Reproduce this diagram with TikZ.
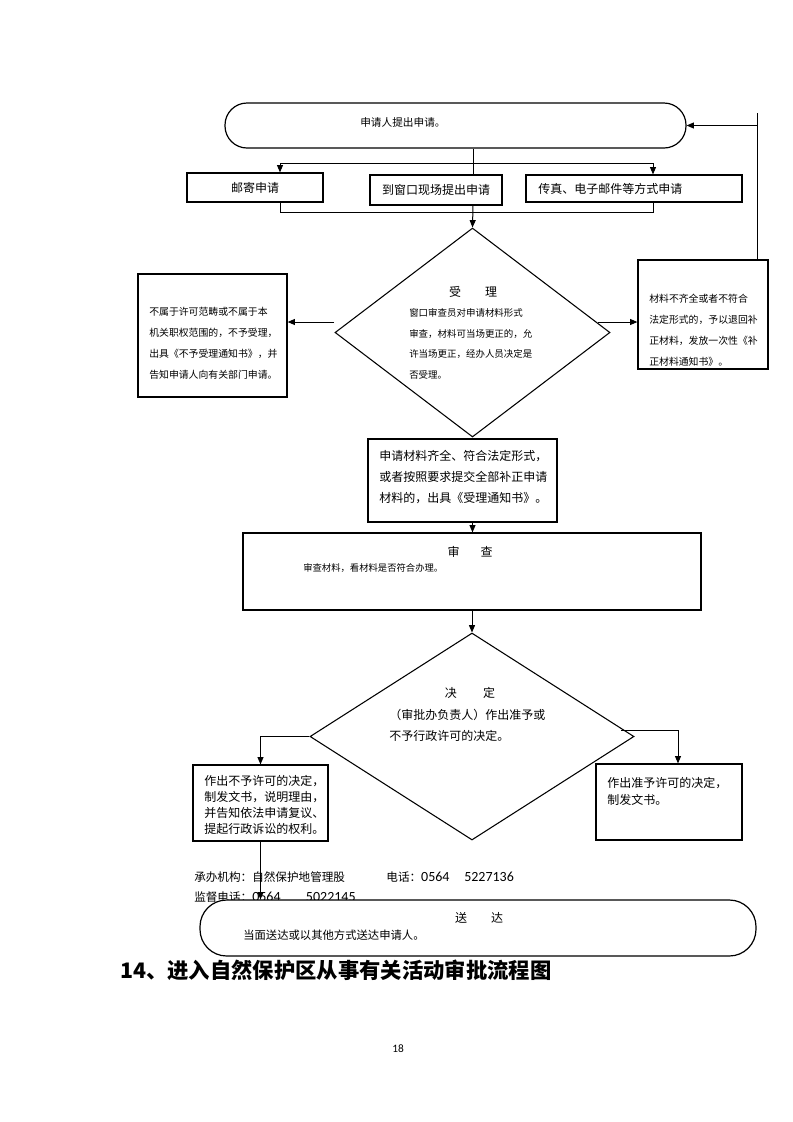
\documentclass[tikz,border=0pt]{standalone}
\usepackage{fontspec}
\setmainfont{Noto Sans CJK SC}
\newfontfamily\numfont{Carlito}
\usetikzlibrary{shapes.geometric,arrows.meta}

\begin{document}
\begin{tikzpicture}[x=0.75pt,y=-0.75pt,
    dims/.style 2 args={minimum width=#1*0.75pt,minimum height=#2*0.75pt},
    box/.style={draw,line width=0.9pt,inner sep=0pt},
    term/.style={box,rounded corners=16.5pt},
    choice/.style={draw,diamond,line width=0.8pt,inner sep=0pt},
    txt/.style={inner sep=0pt,align=left,anchor=west},
    link/.style={line width=0.75pt},
    arr/.style={link,-{Triangle[length=5.5pt,width=4.5pt]}}]
    \useasboundingbox [fill=white] (0,0) rectangle (793,1122);

    % application
    \node [term,dims={461}{45}] (apply) at (455.5,125.5) {};
    \node [txt,font=\fontsize{8}{10}\selectfont] (applytxt) at (360,122) {申请人提出申请。};

    \node [box,dims={136}{29},font=\fontsize{9}{11}\selectfont] (mail) at (255,187.5) {邮寄申请};
    \node [box,dims={132}{30},font=\fontsize{9}{11}\selectfont] (window) at (436,190) {到窗口现场提出申请};
    \node [box,dims={216}{27}] (fax) at (634,188.5) {};
    \node [txt,font=\fontsize{9}{11}\selectfont] (faxtxt) at (538,188.5) {传真、电子邮件等方式申请};

    \coordinate (fork) at (473,163);
    \coordinate (mailin) at (280,163);
    \coordinate (faxin) at (653,163);
    \draw [link] (fork |- apply.south) -- (fork |- window.north);
    \draw [arr] (fork) -- (mailin) -- (mailin |- mail.north);
    \draw [arr] (fork) -- (faxin) -- (faxin |- fax.north);
    \draw [link] (mailin |- mail.south) -- (280,212) -- (653,212) -- (faxin |- fax.south);

    % acceptance
    \node [choice,dims={275}{209}] (accept) at (472.5,332.5) {};
    \draw [arr] (fork |- window.south) -- (accept.north);
    \node [font=\fontsize{9}{11}\selectfont,inner sep=0pt] (accepthead) at (473,292) {受\hspace{2em}理};
    \node [txt,font=\fontsize{7.1}{15.5}\selectfont] (accepttxt) at (409,344) {窗口审查员对申请材料形式\\审查，材料可当场更正的，允\\许当场更正，经办人员决定是\\否受理。};

    \node [box,dims={149}{123}] (reject) at (212.5,335.5) {};
    \node [txt,font=\fontsize{7.4}{15.75}\selectfont] (rejecttxt) at (149,343) {不属于许可范畴或不属于本\\机关职权范围的，不予受理，\\出具《不予受理通知书》，并\\告知申请人向有关部门申请。};

    \node [box,dims={130}{109}] (amend) at (703,314.5) {};
    \node [txt,font=\fontsize{7.4}{15.75}\selectfont] (amendtxt) at (649,330) {材料不齐全或者不符合\\法定形式的，予以退回补\\正材料，发放一次性《补\\正材料通知书》。};

    \coordinate (rejfrom) at (334,322);
    \coordinate (amdfrom) at (598,322);
    \coordinate (ret) at (757,113);
    \draw [arr] (rejfrom) -- (rejfrom -| reject.east);
    \draw [arr] (amdfrom) -- (amdfrom -| amend.west);
    \draw [link] (ret |- amend.north) -- (ret);
    \draw [arr] (ret |- apply.east) -- (apply.east);

    \node [box,dims={189}{83}] (notice) at (462.5,480.5) {};
    \node [txt,font=\fontsize{9}{15.4}\selectfont] (noticetxt) at (379,477) {申请材料齐全、符合法定形式，\\或者按照要求提交全部补正申请\\材料的，出具《受理通知书》。};

    % review
    \node [box,dims={458}{77}] (review) at (472,571.5) {};
    \node [font=\fontsize{9}{11}\selectfont,inner sep=0pt] (reviewhead) at (470,552) {审\hspace{1.75em}查};
    \node [txt,font=\fontsize{7}{9}\selectfont] (reviewtxt) at (303,568) {审查材料，看材料是否符合办理。};
    \draw [arr] (accept.south |- notice.south) -- (accept.south |- review.north);

    % decision
    \node [choice,dims={324}{207}] (decide) at (472,736.5) {};
    \draw [arr] (decide.north |- review.south) -- (decide.north);
    \node [font=\fontsize{9}{11}\selectfont,inner sep=0pt] (decidehead) at (470,693) {决\hspace{2.2em}定};
    \node [txt,font=\fontsize{9}{15.75}\selectfont] (decidetxt) at (389,725) {（审批办负责人）作出准予或\\不予行政许可的决定。};

    \node [box,dims={135}{76}] (deny) at (260.5,803) {};
    \node [txt,font=\fontsize{9}{12}\selectfont] (denytxt) at (204,805) {作出不予许可的决定，\\制发文书，说明理由，\\并告知依法申请复议、\\提起行政诉讼的权利。};

    \node [box,dims={146}{76}] (grant) at (669,802) {};
    \node [txt,font=\fontsize{9}{12.75}\selectfont] (granttxt) at (607,791.5) {作出准予许可的决定，\\制发文书。};

    \coordinate (grantfrom) at (621,730);
    \coordinate (grantin) at (678,730);
    \draw [arr] (decide.west) -| (deny.north);
    \draw [arr] (grantfrom) -- (grantin) -- (grantin |- grant.north);

    % contacts
    \node [txt,font=\fontsize{8.7}{10}\selectfont] (office) at (194,877) {承办机构：自然保护地管理股\hspace{31pt}电话：{\numfont\fontsize{10.5}{10}\selectfont 0564\hspace{11pt}5227136}};
    \node [txt,font=\fontsize{8.7}{10}\selectfont] (supervise) at (194,897) {监督电话：{\numfont\fontsize{10.5}{10}\selectfont 0564\hspace{19pt}5022145}};

    % delivery
    \node [term,rounded corners=20pt,fill=white,dims={556}{56}] (deliver) at (478,928) {};
    \node [font=\fontsize{9}{11}\selectfont,inner sep=0pt] (deliverhead) at (479,918) {送\hspace{2em}达};
    \node [txt,font=\fontsize{8.5}{10}\selectfont] (delivertxt) at (243,935) {当面送达或以其他方式送达申请人。};
    \draw [arr] (deny.south) -- (deny.south |- deliver.north);

    \node [txt,font=\fontsize{16}{19}\selectfont\bfseries] (title) at (120,970) {14、进入自然保护区从事有关活动审批流程图};
    \node [inner sep=0pt,font=\numfont\fontsize{8.5}{10}\selectfont] (page) at (398,1049) {18};
\end{tikzpicture}
\end{document}
